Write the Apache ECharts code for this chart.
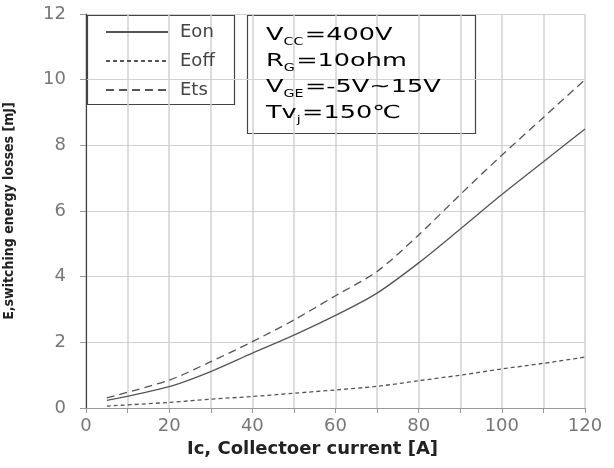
<!DOCTYPE html>
<html>
<head>
<meta charset="utf-8">
<script src="https://cdn.jsdelivr.net/npm/echarts@6/dist/echarts.min.js"></script>
<style>
  html, body { margin: 0; padding: 0; background: #fff; }
  #chart { width: 614px; height: 468px; }
</style>
</head>
<body>
<div id="chart"></div>
<script>
// collector current [A]
const currents = [5, 20, 30, 40, 50, 60, 70, 80, 90, 100, 110, 120];
// switching energies [mJ]
const eon  = [0.23, 0.65, 1.11, 1.67, 2.22, 2.82, 3.5, 4.42, 5.45, 6.5, 7.5, 8.5];
const eoff = [0.06, 0.17, 0.27, 0.35, 0.45, 0.55, 0.66, 0.83, 1.0, 1.19, 1.36, 1.55];
const ets  = [0.31, 0.85, 1.41, 2.02, 2.68, 3.42, 4.16, 5.27, 6.5, 7.7, 8.85, 10.0];
const seriesNames = ['Eon', 'Eoff', 'Ets'];

const pairs = (ys) => currents.map((x, i) => [x, ys[i]]);
const lineColor = '#555';

const chart = echarts.init(document.getElementById('chart'));

//条件说明文字
const condRich = {
  a: { fontSize: 18, fontFamily: 'DejaVu Sans', color: '#222', lineHeight: 26 },
  s: { fontSize: 10, fontFamily: 'DejaVu Sans', color: '#222', verticalAlign: 'bottom', padding: [0, 1, 1, 0] }
};

chart.setOption({
  animation: false,
  grid: { left: 86, right: 29, top: 14, bottom: 60, outerBoundsMode: 'none', containLabel: false },
  xAxis: {
    type: 'value', min: 0, max: 120, interval: 10,
    name: 'Ic, Collectoer current [A]', nameLocation: 'middle', nameGap: 31,
    nameTextStyle: { fontFamily: 'DejaVu Sans', fontWeight: 'bold', fontSize: 18, color: '#222', padding: [0, 46, 0, 0] },
    axisLine: { lineStyle: { color: '#999', width: 1.2 } },
    axisTick: { show: true, length: 5, lineStyle: { color: '#999' } },
    axisLabel: {
      margin: 9, fontSize: 18, color: '#777', fontFamily: 'DejaVu Sans',
      formatter: (v) => (v % 20 === 0 ? String(v) : '')
    },
    splitLine: { show: true, lineStyle: { color: '#d2d2d2', width: 1.5 } }
  },
  yAxis: {
    type: 'value', min: 0, max: 12, interval: 2,
    name: 'E,switching energy losses [mJ]', nameLocation: 'middle', nameGap: 70,
    nameTextStyle: { fontFamily: 'DejaVu Sans Condensed', fontWeight: 'bold', fontSize: 14, color: '#222' },
    axisLine: { show: true, lineStyle: { color: '#444', width: 1.2 } },
    axisTick: { show: true, length: 6, lineStyle: { color: '#999' } },
    axisLabel: { margin: 20, fontSize: 18, color: '#777', fontFamily: 'DejaVu Sans' },
    splitLine: { show: true, lineStyle: { color: '#d2d2d2', width: 1.2 } }
  },
  legend: {
    orient: 'vertical', left: 100, top: 18, itemGap: 11,
    itemWidth: 62, itemHeight: 16,
    data: seriesNames,
    itemStyle: { opacity: 0 },
    textStyle: { fontSize: 18, color: '#444', fontFamily: 'DejaVu Sans', padding: [0, 0, 0, 7] }
  },
  graphic: [
    { type: 'rect', shape: { x: 87.5, y: 15.5, width: 147, height: 89 },
      style: { fill: '#fff', stroke: '#444', lineWidth: 1.2 }, z: 0 },
    { type: 'rect', shape: { x: 247.5, y: 15.5, width: 228, height: 118 },
      style: { fill: '#fff', stroke: '#444', lineWidth: 1.2 }, z: 0 },
    { type: 'text', x: 266, y: 22, scaleX: 1.42, z: 10,
      style: {
        text: '{a|V}{s|CC}{a|=400V}\n{a|R}{s|G}{a|=10ohm}\n{a|V}{s|GE}{a|=-5V~15V}\n{a|Tv}{s|j}{a|=150℃}',
        rich: condRich
      } }
  ],
  series: [
    { name: 'Eon', type: 'line', data: pairs(eon), symbol: 'none', smooth: 0.3,
      lineStyle: { color: lineColor, width: 1.3, type: 'solid' }, itemStyle: { color: lineColor } },
    { name: 'Eoff', type: 'line', data: pairs(eoff), symbol: 'none', smooth: 0.3,
      lineStyle: { color: lineColor, width: 1.3, type: [4, 3] }, itemStyle: { color: lineColor } },
    { name: 'Ets', type: 'line', data: pairs(ets), symbol: 'none', smooth: 0.3,
      lineStyle: { color: lineColor, width: 1.3, type: [8, 5] }, itemStyle: { color: lineColor } }
  ]
});
</script>
</body>
</html>
